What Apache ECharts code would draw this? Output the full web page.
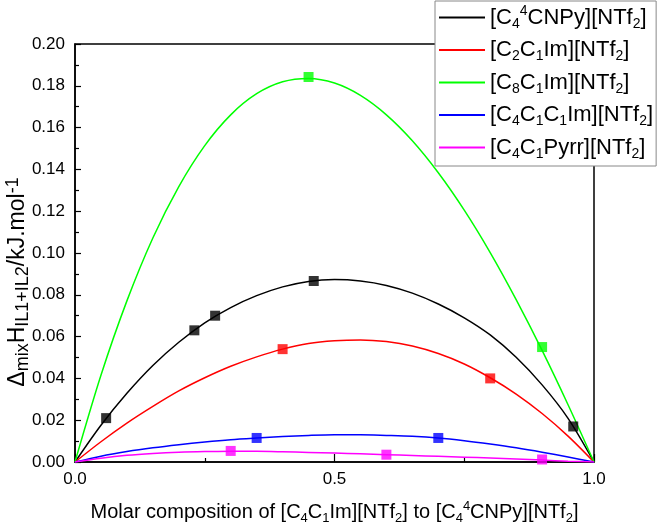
<!DOCTYPE html>
<html>
<head>
<meta charset="utf-8">
<script src="https://cdn.jsdelivr.net/npm/echarts@6/dist/echarts.min.js"></script>
<style>
  html, body { margin: 0; padding: 0; background: #fff; }
  #chart { width: 661px; height: 525px; }
</style>
</head>
<body>
<div id="chart"></div>
<script>
// fitted curves at fixed compositions
const xFit = [0, 0.05, 0.1, 0.15, 0.2, 0.25, 0.3, 0.35, 0.4, 0.45, 0.5, 0.55, 0.6, 0.65, 0.7, 0.75, 0.8, 0.85, 0.9, 0.95, 1];
const fitC4CNPy = [0, 0.0176, 0.0329, 0.0462, 0.0573, 0.0666, 0.0739, 0.0796, 0.0838, 0.0864, 0.0873, 0.0866, 0.0845, 0.0808, 0.0756, 0.069, 0.0608, 0.0501, 0.0369, 0.0209, 0];
const fitC2C1Im = [0, 0.0097, 0.0186, 0.0266, 0.034, 0.0403, 0.0458, 0.0503, 0.054, 0.0567, 0.058, 0.0584, 0.0576, 0.0555, 0.0519, 0.0469, 0.0403, 0.0325, 0.0232, 0.0124, 0];
const fitC8C1Im = [0, 0.0415, 0.0771, 0.1072, 0.1318, 0.1514, 0.1661, 0.1762, 0.1819, 0.1835, 0.1813, 0.1754, 0.1661, 0.1537, 0.1384, 0.1205, 0.1002, 0.0777, 0.0534, 0.0274, 0];
const fitC4C1C1Im = [0, 0.0028, 0.005, 0.0068, 0.0083, 0.0096, 0.0107, 0.0115, 0.0122, 0.0127, 0.013, 0.013, 0.0127, 0.0123, 0.0115, 0.0102, 0.0086, 0.0068, 0.0047, 0.0024, 0];
const fitC4C1Pyrr = [0, 0.0018, 0.0032, 0.0041, 0.0047, 0.005, 0.0051, 0.0051, 0.0049, 0.0046, 0.0043, 0.0039, 0.0035, 0.0031, 0.0027, 0.0023, 0.0019, 0.0014, 0.0009, 0.0004, 0];

// measured points
const ptsC4CNPyX = [0.06, 0.23, 0.27, 0.46, 0.96];
const ptsC4CNPyY = [0.021, 0.063, 0.070, 0.0866, 0.017];
const ptsC2C1ImX = [0.40, 0.80];
const ptsC2C1ImY = [0.054, 0.040];
const ptsC8C1ImX = [0.45, 0.90];
const ptsC8C1ImY = [0.1842, 0.055];
const ptsC4C1C1ImX = [0.35, 0.70];
const ptsC4C1C1ImY = [0.0115, 0.0115];
const ptsC4C1PyrrX = [0.30, 0.60, 0.90];
const ptsC4C1PyrrY = [0.0053, 0.0035, 0.0012];

const seriesNames = ['[C44CNPy][NTf2]', '[C2C1Im][NTf2]', '[C8C1Im][NTf2]', '[C4C1C1Im][NTf2]', '[C4C1Pyrr][NTf2]'];
const legendLabels = [
  '{n|[C}{sb|4}{sp|4}{n|CNPy][NTf}{sb|2}{n|]}',
  '{n|[C}{sb|2}{n|C}{sb|1}{n|Im][NTf}{sb|2}{n|]}',
  '{n|[C}{sb|8}{n|C}{sb|1}{n|Im][NTf}{sb|2}{n|]}',
  '{n|[C}{sb|4}{n|C}{sb|1}{n|C}{sb|1}{n|Im][NTf}{sb|2}{n|]}',
  '{n|[C}{sb|4}{n|C}{sb|1}{n|Pyrr][NTf}{sb|2}{n|]}'
];
const colors = ['#000000', '#ff0000', '#00ff00', '#0000ff', '#ff00ff'];
const fits = [fitC4CNPy, fitC2C1Im, fitC8C1Im, fitC4C1C1Im, fitC4C1Pyrr];
const ptsX = [ptsC4CNPyX, ptsC2C1ImX, ptsC8C1ImX, ptsC4C1C1ImX, ptsC4C1PyrrX];
const ptsY = [ptsC4CNPyY, ptsC2C1ImY, ptsC8C1ImY, ptsC4C1C1ImY, ptsC4C1PyrrY];

const FONT = 'Liberation Sans, Arial, sans-serif';

function richSet(size, sub) {
  return {
    n: { fontSize: size, fontFamily: FONT, color: '#000', lineHeight: size + 5 },
    sb: { fontSize: sub, fontFamily: FONT, color: '#000', lineHeight: sub, verticalAlign: 'bottom' },
    sp: { fontSize: sub, fontFamily: FONT, color: '#000', lineHeight: sub, verticalAlign: 'top' }
  };
}

const series = [];
seriesNames.forEach(function (name, i) {
  series.push({
    name: name,
    type: 'line',
    smooth: 0.3,
    symbol: 'none',
    data: xFit.map(function (x, k) { return [x, fits[i][k]]; }),
    lineStyle: { color: colors[i], width: 1.5 },
    itemStyle: { color: colors[i] },
    z: 2
  });
  series.push({
    name: name + ' pts',
    type: 'scatter',
    symbol: 'rect',
    symbolSize: 10,
    data: ptsX[i].map(function (x, k) { return [x, ptsY[i][k]]; }),
    itemStyle: { color: colors[i] },
    z: 3
  });
});

const chart = echarts.init(document.getElementById('chart'));
chart.setOption({
  animation: false,
  grid: {
    left: 75, right: 67, top: 44, bottom: 63,
    outerBoundsMode: 'none', containLabel: false,
    show: true, borderColor: '#000', borderWidth: 1.5
  },
  legend: {
    data: seriesNames,
    orient: 'vertical',
    left: 435,
    top: 1,
    padding: [3, 3, 5, 3],
    itemWidth: 46,
    itemHeight: 14,
    itemGap: 8,
    itemStyle: { opacity: 0 },
    backgroundColor: '#fff',
    borderColor: '#888',
    borderWidth: 1,
    formatter: function (name) { return legendLabels[seriesNames.indexOf(name)]; },
    textStyle: { rich: richSet(22, 14) },
    z: 10
  },
  graphic: [{
    type: 'text',
    x: 18,
    y: 282,
    rotation: Math.PI / 2,
    style: {
      text: '{n|\u0394}{sb|mix}{n|H}{sb|IL1+IL2}{n|/kJ.mol}{sp|-1}',
      rich: richSet(23, 18),
      align: 'center',
      verticalAlign: 'middle'
    }
  }],
  xAxis: {
    type: 'value',
    min: 0,
    max: 1,
    interval: 0.5,
    name: '{n|Molar composition of [C}{sb|4}{n|C}{sb|1}{n|Im][NTf}{sb|2}{n|] to [C}{sb|4}{sp|4}{n|CNPy][NTf}{sb|2}{n|]}',
    nameLocation: 'middle',
    nameGap: 38,
    nameTextStyle: { rich: richSet(20, 13) },
    axisLine: { lineStyle: { color: '#000', width: 1.5 } },
    axisTick: { inside: true, length: 8, lineStyle: { color: '#000', width: 1.2 } },
    minorTick: { show: true, splitNumber: 2, length: 4, lineStyle: { color: '#000', width: 1.2 } },
    splitLine: { show: false },
    axisLabel: {
      color: '#000', fontSize: 17, fontFamily: FONT, margin: 9,
      formatter: function (v) { return v.toFixed(1); }
    }
  },
  yAxis: {
    type: 'value',
    min: 0,
    max: 0.2,
    interval: 0.02,
    axisLine: { lineStyle: { color: '#000', width: 1.5 } },
    axisTick: { inside: true, length: 6, lineStyle: { color: '#000', width: 1.2 } },
    minorTick: { show: true, splitNumber: 2, length: 4, lineStyle: { color: '#000', width: 1.2 } },
    splitLine: { show: false },
    axisLabel: {
      color: '#000', fontSize: 17, fontFamily: FONT, margin: 10,
      formatter: function (v) { return v.toFixed(2); }
    }
  },
  series: series
});
</script>
</body>
</html>
